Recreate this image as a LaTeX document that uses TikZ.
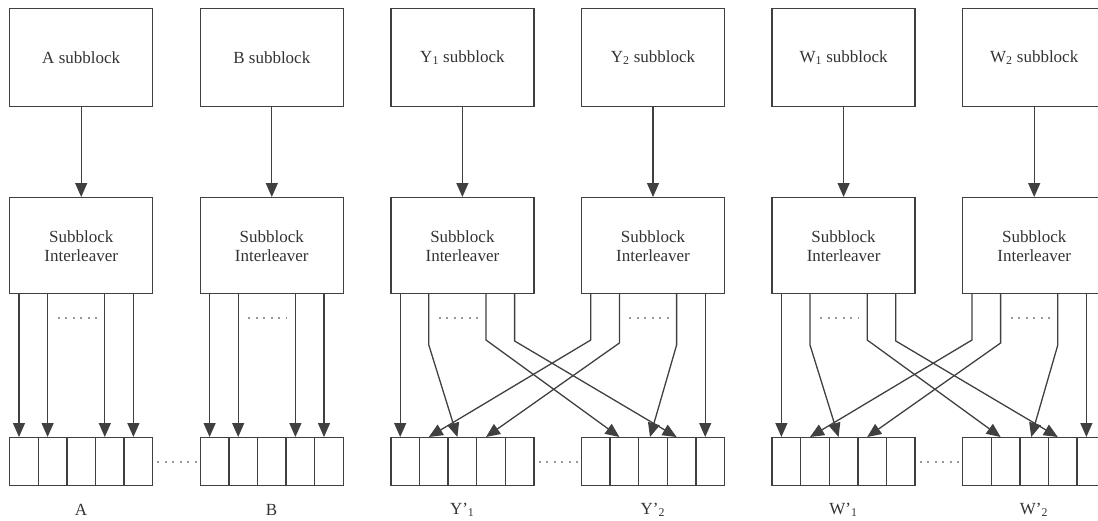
\documentclass[tikz,border=0pt]{standalone}
\usepackage{fontspec}
\setmainfont{Liberation Serif}
\usetikzlibrary{arrows.meta, positioning, calc}

\tikzset{
  blk/.style={draw=black!75, line width=1.4pt, text=black!80, minimum width=143pt, minimum height=98pt,
    inner sep=0pt, anchor=north west, align=center, font=\fontsize{17}{19}\selectfont},
  cell/.style={draw=black!75, line width=1.4pt, minimum width=28.6pt, minimum height=48pt,
    inner sep=0pt, anchor=north west},
  lbl/.style={text=black!80, font=\fontsize{17}{19}\selectfont},
  conn/.style={draw=black!75, line width=1.3pt, -{Triangle[length=14pt,width=12pt]}},
  dots/.style={draw=black!40, line width=2pt, dash pattern=on 2pt off 5.5pt},
}

\begin{document}
\begin{tikzpicture}[x=1pt, y=-1pt]
  \useasboundingbox (0,0) rectangle (1098,520);
  \clip (0,0) rectangle (1098,520);

  % blocks, interleavers and output buffers
  \foreach \n/\txt/\lab/\x in {A/A/A/9, B/B/B/199.6,
      Y1/Y\textsubscript{1}/Y'\textsubscript{1}/390.2, Y2/Y\textsubscript{2}/Y'\textsubscript{2}/580.8,
      W1/W\textsubscript{1}/W'\textsubscript{1}/771.4, W2/W\textsubscript{2}/W'\textsubscript{2}/962}{
    \node[blk] (\n-top) at (\x,8) {\txt{} subblock};
    \node[blk, minimum height=96pt] (\n-il) at (\x,197) {Subblock\\Interleaver};
    \draw[conn] (\n-top) -- (\n-il);
    \foreach \k in {1,...,5}
      \node[cell] (\n-c\k) at ({\x+(\k-1)*28.6},437) {};
    \node[lbl] (\n-lab) at ({\x+72},510) {\lab};
    \foreach \k/\off in {1/10,2/38.6,3/95.8,4/124.4}
      \coordinate (\n-o\k) at ({\x+\off},293);
    \draw[dots] ($(\n-o2)+(10,25)$) -- ($(\n-o3)+(-8,25)$);
  }

  % straight outputs
  \foreach \n in {A,B}
    \foreach \k/\c in {1/1,2/2,3/4,4/5}
      \draw[conn] (\n-o\k) -- (\n-o\k |- \n-c\c.north);

  % crossed outputs
  \foreach \p in {Y,W}{
    \draw[conn] (\p1-o1) -- (\p1-o1 |- \p1-c1.north);
    \draw[conn] (\p1-o2) -- ++(0,52) -- ($(\p1-c3.north west)+(10,0)$);
    \draw[conn] (\p1-o3) -- ++(0,47) -- ($(\p2-c2.north west)+(10,0)$);
    \draw[conn] (\p1-o4) -- ++(0,48) -- ($(\p2-c4.north west)+(10,0)$);
    \draw[conn] (\p2-o1) -- ++(0,47) -- ($(\p1-c2.north west)+(10,0)$);
    \draw[conn] (\p2-o2) -- ++(0,50) -- ($(\p1-c4.north west)+(10,0)$);
    \draw[conn] (\p2-o3) -- ++(0,52) -- ($(\p2-c3.north west)+(12,0)$);
    \draw[conn] (\p2-o4) -- (\p2-o4 |- \p2-c5.north);
  }

  % gaps between buffers
  \foreach \a/\b in {A/B, Y1/Y2, W1/W2}
    \draw[dots] ($(\a-c5.east)+(4,0)$) -- ($(\b-c1.west)+(-2.5,0)$);
\end{tikzpicture}
\end{document}
